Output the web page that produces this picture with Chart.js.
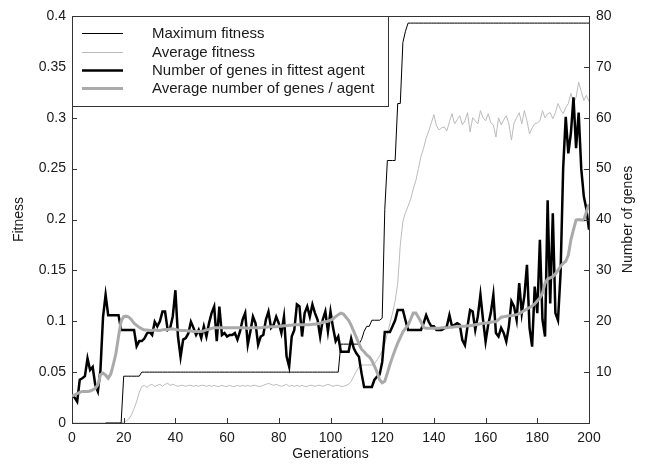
<!DOCTYPE html>
<html>
<head>
<meta charset="utf-8">
<script src="https://cdn.jsdelivr.net/npm/chart.js@4.4.1/dist/chart.umd.min.js"></script>
<style>
  html, body { margin: 0; padding: 0; background: #fff; }
  #wrap { width: 648px; height: 465px; }
</style>
</head>
<body>
<div id="wrap"><canvas id="fitChart" width="648" height="465"></canvas></div>
<script>
// Generations 0..200
const generations = Array.from({ length: 201 }, (_, i) => i);

const seriesNames = ['Maximum fitness', 'Average fitness', 'Number of genes in fittest agent', 'Average number of genes / agent'];

const fitnessTicks = [0, 0.05, 0.1, 0.15, 0.2, 0.25, 0.3, 0.35, 0.4];
const geneTicks = [10, 20, 30, 40, 50, 60, 70, 80];
const generationTicks = [0, 20, 40, 60, 80, 100, 120, 140, 160, 180, 200];

const maxFitness = [
  null, null, null, null, null, null, null, null, null, null,
  null, null, null, 0, 0, 0, 0, 0, 0, 0,
  0.046, 0.046, 0.046, 0.046, 0.046, 0.046, 0.046, 0.05, 0.05, 0.05,
  0.05, 0.05, 0.05, 0.05, 0.05, 0.05, 0.05, 0.05, 0.05, 0.05,
  0.05, 0.05, 0.05, 0.05, 0.05, 0.05, 0.05, 0.05, 0.05, 0.05,
  0.05, 0.05, 0.05, 0.05, 0.05, 0.05, 0.05, 0.05, 0.05, 0.05,
  0.05, 0.05, 0.05, 0.05, 0.05, 0.05, 0.05, 0.05, 0.05, 0.05,
  0.05, 0.05, 0.05, 0.05, 0.05, 0.05, 0.05, 0.05, 0.05, 0.05,
  0.05, 0.05, 0.05, 0.05, 0.05, 0.05, 0.05, 0.05, 0.05, 0.05,
  0.05, 0.05, 0.05, 0.05, 0.05, 0.05, 0.05, 0.05, 0.05, 0.05,
  0.05, 0.05, 0.05, 0.05, 0.0775, 0.0775, 0.0775, 0.0775, 0.0775, 0.0775,
  0.0775, 0.0775, 0.082, 0.09, 0.095, 0.095, 0.101, 0.101, 0.101, 0.101,
  0.103, 0.21, 0.258, 0.258, 0.258, 0.258, 0.314, 0.314, 0.374, 0.385,
  0.393, 0.393, 0.393, 0.393, 0.393, 0.393, 0.393, 0.393, 0.393, 0.393,
  0.393, 0.393, 0.393, 0.393, 0.393, 0.393, 0.393, 0.393, 0.393, 0.393,
  0.393, 0.393, 0.393, 0.393, 0.393, 0.393, 0.393, 0.393, 0.393, 0.393,
  0.393, 0.393, 0.393, 0.393, 0.393, 0.393, 0.393, 0.393, 0.393, 0.393,
  0.393, 0.393, 0.393, 0.393, 0.393, 0.393, 0.393, 0.393, 0.393, 0.393,
  0.393, 0.393, 0.393, 0.393, 0.393, 0.393, 0.393, 0.393, 0.393, 0.393,
  0.393, 0.393, 0.393, 0.393, 0.393, 0.393, 0.393, 0.393, 0.393, 0.393,
  0.393
];

const avgFitness = [
  0, 0, 0, 0, 0, 0, 0, 0, 0, 0,
  0, 0, 0, 0, 0, 0, 0, 0, 0, 0,
  0.001, 0.002, 0.004, 0.008, 0.014, 0.021, 0.030, 0.036, 0.037, 0.035,
  0.037, 0.038, 0.036, 0.037, 0.038, 0.036, 0.038, 0.039, 0.037, 0.038,
  0.037, 0.036, 0.037, 0.037, 0.036, 0.037, 0.037, 0.036, 0.037, 0.036,
  0.037, 0.037, 0.036, 0.037, 0.036, 0.037, 0.036, 0.036, 0.037, 0.036,
  0.036, 0.037, 0.036, 0.036, 0.037, 0.036, 0.037, 0.036, 0.037, 0.036,
  0.037, 0.037, 0.036, 0.036, 0.037, 0.038, 0.039, 0.038, 0.037, 0.038,
  0.037, 0.036, 0.037, 0.038, 0.036, 0.037, 0.036, 0.037, 0.036, 0.037,
  0.036, 0.036, 0.037, 0.037, 0.036, 0.037, 0.037, 0.036, 0.037, 0.038,
  0.037, 0.036, 0.037, 0.037, 0.036, 0.036, 0.037, 0.038, 0.041, 0.046,
  0.051, 0.055, 0.057, 0.057, 0.057, 0.057, 0.057, 0.058, 0.062, 0.066,
  0.071, 0.078, 0.088, 0.098, 0.108, 0.120, 0.137, 0.175, 0.198, 0.207,
  0.213, 0.220, 0.230, 0.238, 0.250, 0.262, 0.270, 0.280, 0.287, 0.295,
  0.303, 0.292, 0.288, 0.290, 0.291, 0.287, 0.296, 0.304, 0.294, 0.298,
  0.302, 0.293, 0.297, 0.305, 0.286, 0.300, 0.297, 0.294, 0.307, 0.300,
  0.297, 0.304, 0.295, 0.293, 0.281, 0.300, 0.293, 0.298, 0.302, 0.294,
  0.278, 0.295, 0.300, 0.305, 0.294, 0.307, 0.297, 0.284, 0.290, 0.294,
  0.295, 0.297, 0.307, 0.300, 0.304, 0.305, 0.299, 0.305, 0.314, 0.308,
  0.304, 0.310, 0.314, 0.324, 0.314, 0.320, 0.335, 0.326, 0.317, 0.322,
  0.316
];

const genesFittest = [
  5.5, 5.0, 4.2, 8.5, 8.8, 9.2, 12.7, 10.4, 11.0, 7.5,
  6.2, 10.4, 20.8, 25.2, 21.2, 21.2, 21.2, 21.2, 21.2, 18.3,
  18.3, 18.3, 18.3, 18.3, 18.3, 15.1, 16.1, 16.1, 16.6, 17.6,
  17.9, 17.3, 19.9, 19.0, 20.0, 21.9, 21.9, 18.3, 18.7, 21.0,
  26.1, 17.0, 13.0, 16.4, 16.7, 17.6, 19.9, 18.7, 17.3, 18.3,
  16.7, 19.0, 17.0, 19.6, 21.6, 22.9, 16.1, 22.9, 17.3, 17.7,
  17.0, 17.3, 17.3, 17.7, 16.4, 18.0, 20.3, 21.6, 15.4, 18.0,
  20.9, 19.6, 15.4, 17.0, 17.3, 20.3, 21.9, 18.7, 19.3, 20.9,
  19.6, 17.7, 20.9, 13.1, 11.1, 17.0, 18.3, 23.3, 22.9, 17.0,
  21.6, 22.9, 20.9, 23.3, 21.6, 20.3, 17.0, 20.3, 21.9, 18.0,
  21.9, 18.7, 16.1, 17.0, 14.0, 14.0, 14.0, 14.0, 16.6, 14.7,
  13.7, 13.0, 9.8, 7.1, 7.1, 7.1, 7.1, 8.5, 9.1, 9.5,
  12.0, 17.9, 17.9, 17.9, 19.0, 20.2, 22.2, 22.2, 22.2, 20.2,
  18.3, 18.3, 18.3, 18.3, 18.3, 18.3, 19.6, 21.2, 19.9, 19.0,
  19.0, 18.3, 18.3, 18.3, 18.6, 19.0, 21.2, 19.0, 19.3, 19.6,
  19.3, 16.3, 15.3, 19.0, 22.2, 21.9, 18.3, 21.0, 25.2, 20.3,
  16.0, 19.3, 21.6, 25.2, 17.7, 17.0, 18.7, 17.7, 16.0, 19.0,
  23.9, 22.9, 20.3, 27.5, 21.6, 25.0, 31.1, 18.7, 15.0, 26.8,
  21.6, 36.0, 20.3, 17.0, 43.8, 23.5, 41.2, 21.6, 20.2, 29.4,
  50.0, 60.2, 53.0, 57.0, 64.0, 54.0, 61.0, 50.0, 44.5, 42.0,
  38.0
];

const genesAverage = [
  5.3, 5.5, 5.8, 6.0, 6.2, 6.2, 6.2, 6.3, 6.5, 6.8,
  7.5, 9.5, 9.8, 9.4, 8.8, 9.6, 11.5, 13.7, 17.0, 20.0,
  20.9, 21.0, 20.8, 20.3, 19.6, 19.2, 18.8, 18.5, 18.3, 18.3,
  18.2, 18.2, 18.3, 18.2, 18.2, 18.3, 18.4, 18.4, 18.5, 18.5,
  18.4, 18.3, 18.2, 18.2, 18.2, 18.1, 18.1, 18.0, 18.0, 18.0,
  18.0, 18.1, 18.3, 18.4, 18.6, 18.7, 18.7, 18.7, 18.7, 18.7,
  18.7, 18.7, 18.7, 18.7, 18.7, 18.7, 18.7, 18.7, 18.6, 18.7,
  18.7, 18.7, 18.7, 18.7, 18.8, 18.8, 18.9, 18.9, 18.9, 18.9,
  19.0, 19.0, 19.1, 19.1, 19.2, 19.2, 19.3, 19.3, 19.3, 19.3,
  19.3, 19.3, 19.3, 19.4, 19.4, 19.5, 19.6, 19.8, 19.9, 20.0,
  20.2, 20.5, 20.9, 21.3, 21.6, 21.4, 20.8, 20.2, 19.2, 18.0,
  16.8, 15.6, 14.5, 14.0, 13.4, 13.0, 12.3, 11.2, 10.0, 8.5,
  7.9, 8.2, 9.8, 11.5, 13.0, 14.4, 15.7, 16.8, 17.9, 18.6,
  19.2, 20.4, 21.6, 21.6, 20.8, 19.9, 18.8, 18.6, 18.6, 18.6,
  18.6, 18.6, 18.6, 18.7, 18.7, 18.7, 18.8, 18.8, 18.9, 18.9,
  19.0, 19.0, 19.0, 19.1, 19.1, 19.2, 19.3, 19.4, 19.5, 19.6,
  19.6, 19.7, 19.8, 19.9, 19.9, 20.3, 20.8, 20.9, 21.0, 21.1,
  21.1, 21.2, 21.3, 21.5, 21.8, 22.1, 22.4, 22.7, 23.0, 23.4,
  24.0, 24.6, 25.5, 27.5, 28.3, 28.5, 28.8, 29.3, 30.0, 30.8,
  31.4, 31.8, 33.0, 36.0, 38.0, 39.9, 40.0, 39.9, 39.9, 41.5,
  43.0
];

const axisColor = '#333333';
const textColor = '#1a1a1a';
const fontFamily = '"Liberation Sans", Arial, sans-serif';

Chart.defaults.font.family = fontFamily;
Chart.defaults.font.size = 14;
Chart.defaults.color = textColor;

function toPoints(values) {
  return generations.map((g, i) => ({ x: g, y: values[i] }));
}

// Inward tick marks, top frame edge, right-hand title
const framePlugin = {
  id: 'framePlugin',
  afterDatasetsDraw(chart) {
    const { ctx, chartArea: a, scales } = chart;
    ctx.save();
    ctx.strokeStyle = axisColor;
    ctx.lineWidth = 1;
    ctx.beginPath();
    ctx.moveTo(a.left, a.top + 0.5);
    ctx.lineTo(a.right, a.top + 0.5);
    generationTicks.forEach(v => {
      const px = Math.round(scales.x.getPixelForValue(v)) + 0.5;
      ctx.moveTo(px, a.bottom);
      ctx.lineTo(px, a.bottom - 5);
    });
    fitnessTicks.forEach(v => {
      const py = Math.round(scales.y.getPixelForValue(v)) + 0.5;
      ctx.moveTo(a.left, py);
      ctx.lineTo(a.left + 5, py);
    });
    geneTicks.forEach(v => {
      const py = Math.round(scales.y1.getPixelForValue(v)) + 0.5;
      ctx.moveTo(a.right, py);
      ctx.lineTo(a.right - 5, py);
    });
    ctx.stroke();

    ctx.fillStyle = textColor;
    ctx.font = '14px ' + fontFamily;
    ctx.textAlign = 'center';
    ctx.textBaseline = 'middle';
    ctx.translate(628, (a.top + a.bottom) / 2);
    ctx.rotate(-Math.PI / 2);
    ctx.fillText('Number of genes', 0, 0);
    ctx.restore();
  }
};

// Boxed legend in the upper-left corner of the plot
const boxLegend = {
  id: 'boxLegend',
  afterDraw(chart) {
    const { ctx, chartArea: a } = chart;
    const styles = [
      { color: '#000000', width: 1 },
      { color: '#bbbbbb', width: 1 },
      { color: '#000000', width: 2.5 },
      { color: '#aaaaaa', width: 3 }
    ];
    const rowY = [17, 35.5, 54, 72];
    ctx.save();
    ctx.fillStyle = '#ffffff';
    ctx.fillRect(a.left, a.top, 316, 90);
    ctx.strokeStyle = axisColor;
    ctx.lineWidth = 1;
    ctx.strokeRect(a.left + 0.5, a.top + 0.5, 316, 90);
    ctx.font = '15px ' + fontFamily;
    ctx.textBaseline = 'middle';
    ctx.textAlign = 'left';
    seriesNames.forEach((name, i) => {
      const y = Math.round(a.top + rowY[i]) + 0.5;
      ctx.strokeStyle = styles[i].color;
      ctx.lineWidth = styles[i].width;
      ctx.beginPath();
      ctx.moveTo(a.left + 10, y);
      ctx.lineTo(a.left + 51, y);
      ctx.stroke();
      ctx.fillStyle = textColor;
      ctx.fillText(name, a.left + 80, y);
    });
    ctx.restore();
  }
};

new Chart(document.getElementById('fitChart'), {
  type: 'line',
  data: {
    datasets: [
      {
        label: seriesNames[0],
        data: toPoints(maxFitness),
        yAxisID: 'y',
        borderColor: '#000000',
        borderWidth: 1,
        order: 2
      },
      {
        label: seriesNames[1],
        data: toPoints(avgFitness),
        yAxisID: 'y',
        borderColor: '#bbbbbb',
        borderWidth: 1,
        order: 3
      },
      {
        label: seriesNames[2],
        data: toPoints(genesFittest),
        yAxisID: 'y1',
        borderColor: '#000000',
        borderWidth: 2.5,
        order: 1
      },
      {
        label: seriesNames[3],
        data: toPoints(genesAverage),
        yAxisID: 'y1',
        borderColor: '#aaaaaa',
        borderWidth: 3,
        order: 0
      }
    ]
  },
  options: {
    responsive: false,
    animation: false,
    layout: { padding: { top: 16, left: 0, right: 0, bottom: 0 } },
    elements: {
      point: { radius: 0 },
      line: { tension: 0, borderJoinStyle: 'miter' }
    },
    plugins: {
      legend: { display: false },
      tooltip: { enabled: false }
    },
    scales: {
      x: {
        type: 'linear',
        min: 0,
        max: 200,
        grid: { display: false, drawTicks: false },
        border: { color: axisColor, width: 1 },
        ticks: { stepSize: 20, padding: 7, maxRotation: 0 },
        title: { display: true, text: 'Generations', padding: { top: 0, bottom: 2 } },
        afterFit(scale) { scale.height = 42; }
      },
      y: {
        position: 'left',
        min: 0,
        max: 0.4,
        grid: { display: false, drawTicks: false },
        border: { color: axisColor, width: 1 },
        ticks: {
          stepSize: 0.05,
          padding: 6,
          callback: v => String(Number(v.toFixed(2)))
        },
        title: { display: true, text: 'Fitness', padding: { top: 11, bottom: 0 } },
        afterFit(scale) { scale.width = 72; }
      },
      y1: {
        position: 'right',
        min: 0,
        max: 80,
        grid: { display: false, drawTicks: false },
        border: { color: axisColor, width: 1 },
        ticks: {
          stepSize: 10,
          padding: 7,
          callback: v => (v === 0 ? '' : String(v))
        },
        afterFit(scale) { scale.width = 59; }
      }
    }
  },
  plugins: [framePlugin, boxLegend]
});
</script>
</body>
</html>
